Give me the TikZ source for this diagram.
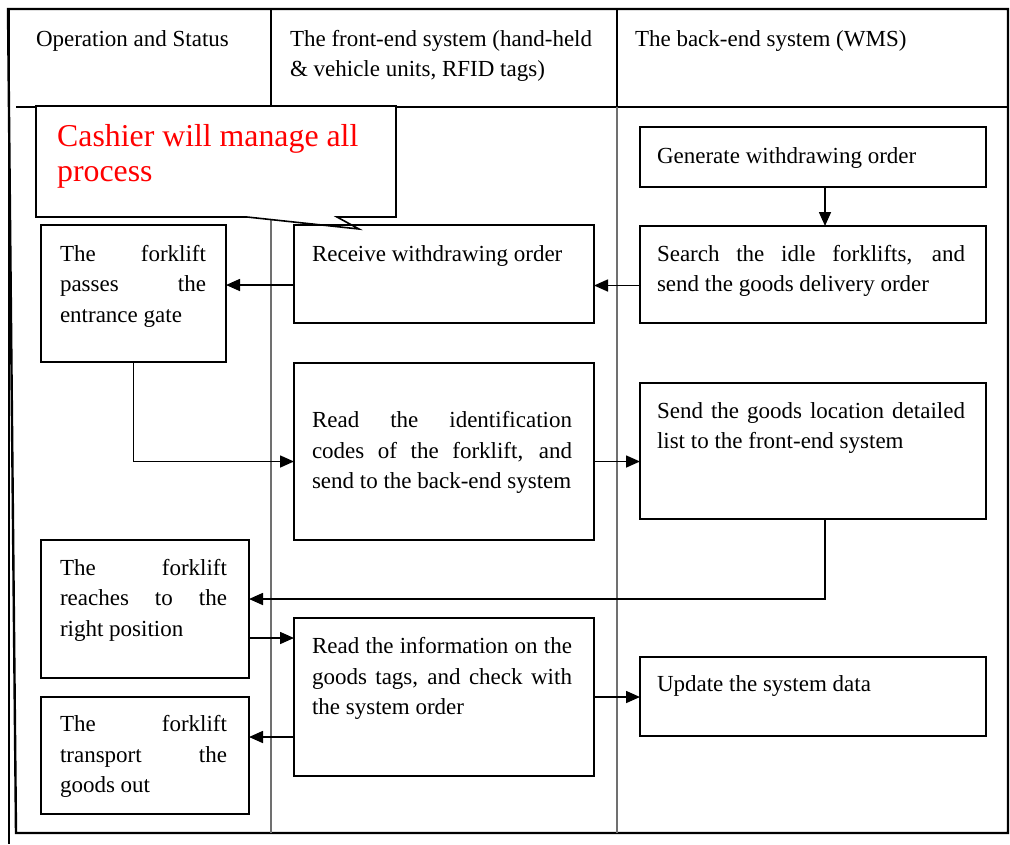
\documentclass[tikz,border=0pt]{standalone}
\usepackage{fontspec}
\setmainfont{Liberation Serif}
\usetikzlibrary{arrows.meta}

% justified cell text: never hyphenate, accept any stretch
\tolerance=10000 \hbadness=10000
\hyphenpenalty=10000 \exhyphenpenalty=10000

\definecolor{lanegray}{RGB}{112,112,112}
\newcommand\bodysize{\fontsize{23}{30.5}\selectfont}
\newcommand\notesize{\fontsize{31.8}{35}\selectfont}

\begin{document}
\begin{tikzpicture}[x=1pt,y=-1pt,
  frame/.style={line width=2.4pt, black},
  headrule/.style={line width=1.6pt, black},
  lanerule/.style={line width=2.6pt, lanegray},
  stepbox/.style={draw=black, line width=1.6pt, rectangle, inner sep=0pt,
    outer sep=0pt, anchor=north west},
  txt/.style={inner sep=0pt, outer sep=0pt, anchor=north west,
    align=justify, font=\bodysize},
  head/.style={inner sep=0pt, outer sep=0pt, anchor=north west,
    align=left, font=\bodysize},
  arr/.style={line width=1.6pt, -{Triangle[length=14pt,width=12pt]}},
]
\useasboundingbox (0,0) rectangle (1010,844);

% table frame with the doubled left edge
\draw[frame] (9,9) -- (9,844);
\draw[frame] (8,9) -- (1008,9) -- (1008,833) -- (16,833) -- cycle;
\draw[headrule] (16,107) -- (1008,107);
\draw[headrule] (271,9) -- (271,107);
\draw[headrule] (617,9) -- (617,107);
\draw[lanerule] (271,107) -- (271,833);
\draw[lanerule] (617,107) -- (617,833);

% column headings
\node[head] (h1) at (36,25) {\strut Operation and Status};
\node[head] (h2) at (290,25) {\strut The front-end system (hand-held\\\& vehicle units, RFID tags)};
\node[head] (h3) at (635,25) {\strut The back-end system (WMS)};

% speech-bubble note
\draw[line width=1.6pt, fill=white]
  (36,106) -- (396,106) -- (396,217) -- (337,217) -- (359,229)
  -- (247,217) -- (36,217) -- cycle;
\node[inner sep=0pt, anchor=north west, align=left, font=\notesize, text=red]
  (note) at (57,122) {\strut Cashier will manage all\\process};

% process boxes
\node[stepbox, minimum width=185, minimum height=137] (pass)   at (41,225)  {};
\node[stepbox, minimum width=300, minimum height=98]  (recv)   at (294,225) {};
\node[stepbox, minimum width=346, minimum height=60]  (gen)    at (640,127) {};
\node[stepbox, minimum width=346, minimum height=97]  (search) at (640,226) {};
\node[stepbox, minimum width=300, minimum height=177] (read)   at (294,363) {};
\node[stepbox, minimum width=346, minimum height=136] (send)   at (640,383) {};
\node[stepbox, minimum width=208, minimum height=138] (reach)  at (41,540)  {};
\node[stepbox, minimum width=300, minimum height=158] (info)   at (294,618) {};
\node[stepbox, minimum width=208, minimum height=117] (trans)  at (41,697)  {};
\node[stepbox, minimum width=346, minimum height=79]  (upd)    at (640,657) {};

% box texts
\node[txt, text width=146] (pass-t)   at ([shift={(19,15)}]pass.north west)
  {\strut The forklift\linebreak passes the\linebreak entrance gate};
\node[txt, text width=262] (recv-t)   at ([shift={(18,15)}]recv.north west)
  {\strut Receive withdrawing order};
\node[txt, text width=308] (gen-t)    at ([shift={(17,15)}]gen.north west)
  {\strut Generate withdrawing order};
\node[txt, text width=308] (search-t) at ([shift={(17,14)}]search.north west)
  {\strut Search the idle forklifts, and\linebreak send the goods delivery order};
\node[txt, text width=260] (read-t)   at ([shift={(18,43.6)}]read.north west)
  {\strut Read the identification\linebreak codes of the forklift, and\linebreak send to the back-end system};
\node[txt, text width=308] (send-t)   at ([shift={(17,14)}]send.north west)
  {\strut Send the goods location detailed\linebreak list to the front-end system};
\node[txt, text width=167] (reach-t)  at ([shift={(19,14)}]reach.north west)
  {\strut The forklift\linebreak reaches to the\linebreak right position};
\node[txt, text width=260] (info-t)   at ([shift={(18,14.6)}]info.north west)
  {\strut Read the information on the\linebreak goods tags, and check with\linebreak the system order};
\node[txt, text width=167] (trans-t)  at ([shift={(19,13.5)}]trans.north west)
  {\strut The forklift\linebreak transport the\linebreak goods out};
\node[txt, text width=308] (upd-t)    at ([shift={(17,13.5)}]upd.north west)
  {\strut Update the system data};

% flow arrows
\draw[arr] ([xshift=12pt]gen.south) -- ([xshift=12pt]search.north);
\draw[arr] ([yshift=-11pt]search.west) -- ([yshift=-11pt]search.west -| recv.east);
\draw[arr] ([yshift=-11pt]recv.west) -- ([yshift=-11pt]recv.west -| pass.east);
\draw[arr] (pass.south) |- ([yshift=-10pt]read.west);
\draw[arr] ([yshift=-10pt]read.east) -- ([yshift=-10pt]read.east -| send.west);
\draw[arr] ([xshift=12pt]send.south) |- ([yshift=10pt]reach.east);
\draw[arr] ([yshift=-29pt]reach.east) -- ([yshift=-29pt]reach.east -| info.west);
\draw[arr] ([yshift=-40pt]info.west) -- ([yshift=-40pt]info.west -| trans.east);
\draw[arr] (info.east) -- (info.east -| upd.west);
\end{tikzpicture}
\end{document}
